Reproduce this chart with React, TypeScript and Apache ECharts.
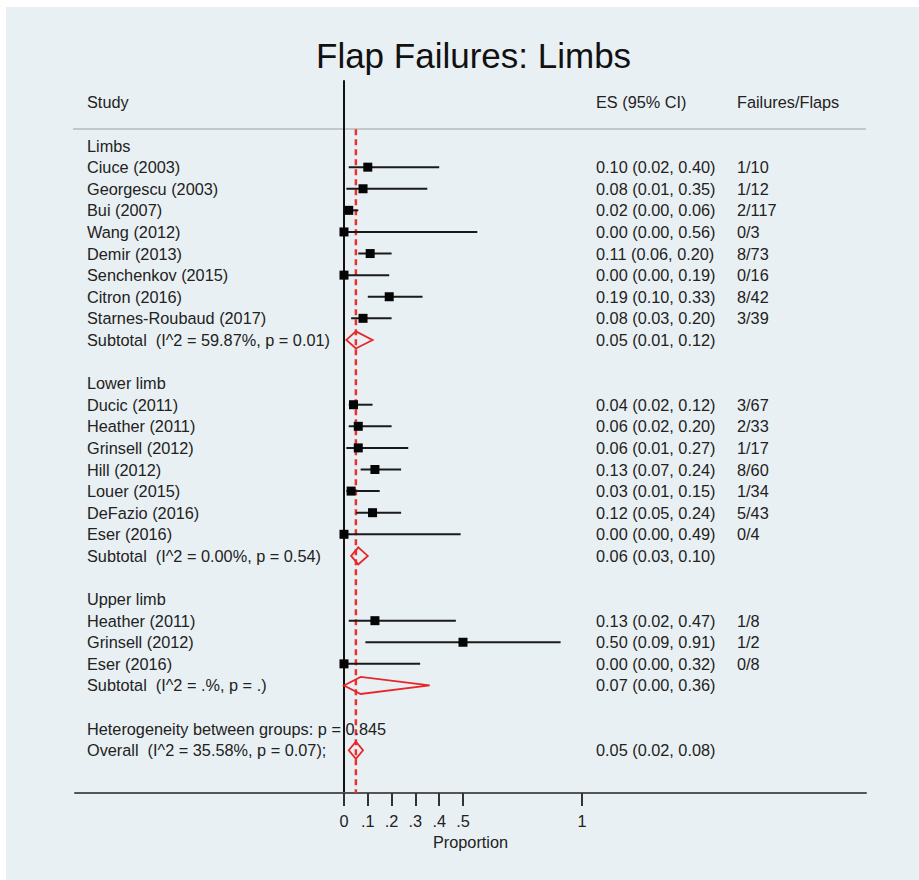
import React, { useEffect, useRef } from "react";
import * as echarts from "echarts";

const groupTitles = ["Limbs", "Lower limb", "Upper limb"];

const limbsStudies = ["Ciuce (2003)", "Georgescu (2003)", "Bui (2007)", "Wang (2012)", "Demir (2013)", "Senchenkov (2015)", "Citron (2016)", "Starnes-Roubaud (2017)"];
const limbsES = [0.1, 0.08, 0.02, 0.0, 0.11, 0.0, 0.19, 0.08];
const limbsLower = [0.02, 0.01, 0.0, 0.0, 0.06, 0.0, 0.1, 0.03];
const limbsUpper = [0.4, 0.35, 0.06, 0.56, 0.2, 0.19, 0.33, 0.2];
const limbsCounts = ["1/10", "1/12", "2/117", "0/3", "8/73", "0/16", "8/42", "3/39"];

const lowerStudies = ["Ducic (2011)", "Heather (2011)", "Grinsell (2012)", "Hill (2012)", "Louer (2015)", "DeFazio (2016)", "Eser (2016)"];
const lowerES = [0.04, 0.06, 0.06, 0.13, 0.03, 0.12, 0.0];
const lowerLower = [0.02, 0.02, 0.01, 0.07, 0.01, 0.05, 0.0];
const lowerUpper = [0.12, 0.2, 0.27, 0.24, 0.15, 0.24, 0.49];
const lowerCounts = ["3/67", "2/33", "1/17", "8/60", "1/34", "5/43", "0/4"];

const upperStudies = ["Heather (2011)", "Grinsell (2012)", "Eser (2016)"];
const upperES = [0.13, 0.5, 0.0];
const upperLower = [0.02, 0.09, 0.0];
const upperUpper = [0.47, 0.91, 0.32];
const upperCounts = ["1/8", "1/2", "0/8"];

const subtotalLabels = [
  "Subtotal  (I^2 = 59.87%, p = 0.01)",
  "Subtotal  (I^2 = 0.00%, p = 0.54)",
  "Subtotal  (I^2 = .%, p = .)",
];
const subtotalES = [0.05, 0.06, 0.07];
const subtotalLower = [0.01, 0.03, 0.0];
const subtotalUpper = [0.12, 0.1, 0.36];

const heterogeneityLabel = "Heterogeneity between groups: p = 0.845";
const overallLabel = "Overall  (I^2 = 35.58%, p = 0.07);";
const overallES = 0.05;
const overallLower = 0.02;
const overallUpper = 0.08;

const headerLabels = ["Study", "ES (95% CI)", "Failures/Flaps"];
const titleText = "Flap Failures: Limbs";
const axisTitle = "Proportion";
const tickValues = [0, 0.1, 0.2, 0.3, 0.4, 0.5, 1];
const tickLabels = ["0", ".1", ".2", ".3", ".4", ".5", "1"];

type Row = {
  r: number;
  label: string;
  kind: "group" | "study" | "subtotal" | "note" | "overall";
  es?: number;
  lo?: number;
  hi?: number;
  count?: string;
};

function buildRows(): Row[] {
  const groups = [
    { names: limbsStudies, es: limbsES, lo: limbsLower, hi: limbsUpper, counts: limbsCounts },
    { names: lowerStudies, es: lowerES, lo: lowerLower, hi: lowerUpper, counts: lowerCounts },
    { names: upperStudies, es: upperES, lo: upperLower, hi: upperUpper, counts: upperCounts },
  ];
  const rows: Row[] = [];
  let r = 0;
  groups.forEach((g, gi) => {
    rows.push({ r: r++, label: groupTitles[gi], kind: "group" });
    g.names.forEach((n, i) => {
      rows.push({ r: r++, label: n, kind: "study", es: g.es[i], lo: g.lo[i], hi: g.hi[i], count: g.counts[i] });
    });
    rows.push({ r: r++, label: subtotalLabels[gi], kind: "subtotal", es: subtotalES[gi], lo: subtotalLower[gi], hi: subtotalUpper[gi] });
    r++;
  });
  rows.push({ r: r++, label: heterogeneityLabel, kind: "note" });
  rows.push({ r: r++, label: overallLabel, kind: "overall", es: overallES, lo: overallLower, hi: overallUpper });
  return rows;
}

const FONT = '"Liberation Sans", Arial, Helvetica, sans-serif';
const TEXT_COLOR = "#222";
const FS = 16.3;

export default function App() {
  const ref = useRef<HTMLDivElement>(null);
  useEffect(() => {
    if (!ref.current) return;
    const chart = echarts.init(ref.current, undefined, { renderer: "svg" });
    const rows = buildRows();
    const studyRows = rows.filter((d) => d.kind === "study");
    const diamondRows = rows.filter((d) => d.kind === "subtotal" || d.kind === "overall");
    const yMin = -2.99;
    const yMax = 29.98;
    const headerRow = -2;
    const ruleRow = -0.75;
    const fmt = (v: number) => v.toFixed(2);

    const textItems: { r: number; texts: [number, string][] }[] = [
      { r: headerRow, texts: [[87, headerLabels[0]], [596, headerLabels[1]], [737, headerLabels[2]]] },
      ...rows.map((d) => {
        const t: [number, string][] = [[87, d.label]];
        if (d.es !== undefined) t.push([596, `${fmt(d.es)} (${fmt(d.lo!)}, ${fmt(d.hi!)})`]);
        if (d.count) t.push([737, d.count]);
        return { r: d.r, texts: t };
      }),
    ];

    chart.setOption({
      animation: false,
      backgroundColor: "#ffffff",
      title: {
        text: titleText,
        left: 311,
        top: 33,
        textStyle: { fontSize: 35, fontWeight: "normal", color: "#111", fontFamily: FONT },
      },
      graphic: [
        { type: "rect", z: -10, shape: { x: 6, y: 7, width: 913, height: 873 }, style: { fill: "#e9f0f3" } },
        { type: "line", z: -5, shape: { x1: 73, y1: 129, x2: 866, y2: 129 }, style: { stroke: "#b5babd", lineWidth: 1.5 } },
      ],
      grid: { left: 75, right: 53, top: 81, bottom: 87 },
      xAxis: {
        type: "value",
        min: -1.13,
        max: 2.193,
        name: axisTitle,
        nameLocation: "middle",
        nameGap: 39,
        nameTextStyle: { fontSize: FS, color: TEXT_COLOR, fontFamily: FONT },
        splitLine: { show: false },
        axisLine: { onZero: false, lineStyle: { color: "#555", width: 2 } },
        axisTick: { show: true, length: 13, customValues: tickValues, lineStyle: { color: "#333", width: 2 } },
        axisLabel: {
          customValues: tickValues,
          margin: 20,
          fontSize: FS,
          color: TEXT_COLOR,
          fontFamily: FONT,
          formatter: (v: number) => {
            const i = tickValues.findIndex((t) => Math.abs(t - v) < 1e-9);
            return i >= 0 ? tickLabels[i] : "";
          },
        },
      },
      yAxis: {
        type: "value",
        inverse: true,
        min: yMin,
        max: yMax,
        axisLine: { show: true, onZero: true, lineStyle: { color: "#111", width: 2 } },
        axisTick: { show: false },
        axisLabel: { show: false },
        splitLine: { show: false },
      },
      series: [
        {
          type: "custom",
          name: "overall-ref",
          z: 1,
          data: [[overallES]],
          renderItem: (params: any, api: any) => {
            const x = api.value(0);
            const p1 = api.coord([x, ruleRow]);
            const p2 = api.coord([x, yMax]);
            return {
              type: "line",
              shape: { x1: p1[0], y1: p1[1], x2: p2[0], y2: p2[1] },
              style: { stroke: "#e8322f", lineWidth: 2.5, lineDash: [6, 4] },
            };
          },
        },
        {
          type: "custom",
          name: "studies",
          z: 3,
          data: studyRows.map((d) => [d.r, d.es, d.lo, d.hi]),
          encode: { y: 0, x: [1, 2, 3] },
          renderItem: (params: any, api: any) => {
            const r = api.value(0);
            const pE = api.coord([api.value(1), r]);
            const pL = api.coord([api.value(2), r]);
            const pH = api.coord([api.value(3), r]);
            const s = 9;
            return {
              type: "group",
              children: [
                {
                  type: "line",
                  shape: { x1: pL[0], y1: pL[1], x2: pH[0], y2: pH[1] },
                  style: { stroke: "#1a1a1a", lineWidth: 2 },
                },
                {
                  type: "rect",
                  shape: { x: pE[0] - s / 2, y: pE[1] - s / 2, width: s, height: s },
                  style: { fill: "#050505" },
                },
              ],
            };
          },
        },
        {
          type: "custom",
          name: "pooled",
          z: 4,
          data: diamondRows.map((d) => [d.r, d.es, d.lo, d.hi]),
          encode: { y: 0, x: [1, 2, 3] },
          renderItem: (params: any, api: any) => {
            const r = api.value(0);
            const pE = api.coord([api.value(1), r]);
            const pL = api.coord([api.value(2), r]);
            const pH = api.coord([api.value(3), r]);
            const h = 8.5;
            return {
              type: "polygon",
              shape: {
                points: [
                  [pL[0], pL[1]],
                  [pE[0], pE[1] - h],
                  [pH[0], pH[1]],
                  [pE[0], pE[1] + h],
                ],
              },
              style: { fill: "none", stroke: "#e8262a", lineWidth: 1.8 },
            };
          },
        },
        {
          type: "custom",
          name: "texts",
          z: 5,
          data: textItems.map((d) => [0, d.r]),
          renderItem: (params: any, api: any) => {
            const item = textItems[params.dataIndex];
            const y = api.coord([0, item.r])[1];
            return {
              type: "group",
              children: item.texts.map(([x, t]) => ({
                type: "text",
                x,
                y,
                style: {
                  text: t,
                  fill: TEXT_COLOR,
                  fontSize: FS,
                  fontFamily: FONT,
                  align: "left",
                  verticalAlign: "middle",
                },
              })),
            };
          },
        },
      ],
    });
    return () => chart.dispose();
  }, []);
  return (
    <div
      ref={ref}
      style={{ position: "absolute", left: 0, top: 0, width: 919, height: 880 }}
    />
  );
}
